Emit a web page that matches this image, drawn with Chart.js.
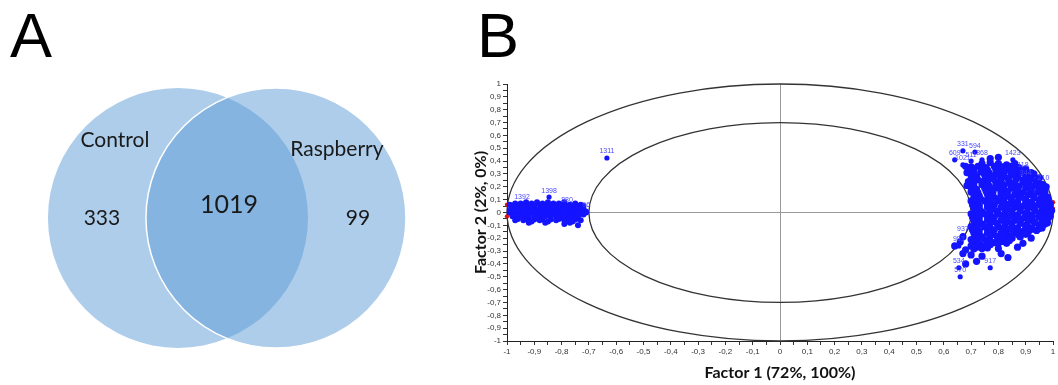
<!DOCTYPE html>
<html>
<head>
<meta charset="utf-8">
<script src="https://cdn.jsdelivr.net/npm/chart.js"></script>
<style>
  body { margin: 0; background: #fff; width: 1058px; height: 385px; position: relative; overflow: hidden; }
  .panel-letter { position: absolute; top: 4px; font-family: Arial, "Liberation Sans", sans-serif; font-size: 63px; line-height: 63px; color: #000; }
  #vennBox { position: absolute; left: 0; top: 0; width: 450px; height: 385px; }
  #plotBox { position: absolute; left: 460px; top: 0; width: 598px; height: 385px; }
</style>
</head>
<body>
<div class="panel-letter" style="left:10px">A</div>
<div class="panel-letter" style="left:477px">B</div>
<div id="vennBox"><canvas id="venn" width="450" height="385"></canvas></div>
<div id="plotBox"><canvas id="plot" width="598" height="385"></canvas></div>
<script>
// ---- panel A: venn ----
var vennSets = ['Control', 'Raspberry'];
var vennRegions = ['Control only', 'Both', 'Raspberry only'];
var vennCounts = [333, 1019, 99];

// ---- panel B: loadings (Factor 1, Factor 2) ----
var leftCluster = [
  [-0.99,0.06],[-0.97,0.07],[-0.95,0.07],[-0.93,0.08],[-0.91,0.07],[-0.89,0.08],[-0.87,0.07],[-0.85,0.08],[-0.83,0.07],[-0.81,0.07],[-0.79,0.08],[-0.77,0.06],[-0.75,0.07],[-0.73,0.06],
  [-0.98,0.055],[-0.96,0.05],[-0.94,0.06],[-0.92,0.05],[-0.90,0.055],[-0.88,0.06],[-0.86,0.05],[-0.84,0.055],[-0.82,0.05],[-0.80,0.06],[-0.78,0.05],[-0.76,0.055],[-0.74,0.05],[-0.72,0.05],
  [-0.98,0.04],[-0.96,0.03],[-0.94,0.04],[-0.92,0.03],[-0.90,0.04],[-0.88,0.03],[-0.86,0.04],[-0.84,0.03],[-0.82,0.04],[-0.80,0.03],[-0.78,0.04],[-0.76,0.03],[-0.74,0.04],[-0.72,0.03],
  [-0.99,0.02],[-0.97,0.025],[-0.95,0.015],[-0.93,0.02],[-0.91,0.025],[-0.89,0.015],[-0.87,0.02],[-0.85,0.025],[-0.83,0.015],[-0.81,0.02],[-0.79,0.025],[-0.77,0.015],[-0.75,0.02],[-0.73,0.02],
  [-0.99,0.00],[-0.97,0.01],[-0.95,-0.01],[-0.93,0.00],[-0.91,0.01],[-0.89,-0.01],[-0.87,0.00],[-0.85,0.01],[-0.83,-0.01],[-0.81,0.00],[-0.79,0.01],[-0.77,-0.01],[-0.75,0.00],[-0.73,0.01],[-0.71,0.00],
  [-0.98,-0.015],[-0.96,-0.02],[-0.94,-0.01],[-0.92,-0.02],[-0.90,-0.015],[-0.88,-0.01],[-0.86,-0.02],[-0.84,-0.015],[-0.82,-0.01],[-0.80,-0.02],[-0.78,-0.015],[-0.76,-0.01],[-0.74,-0.02],[-0.72,-0.015],
  [-0.98,-0.03],[-0.96,-0.04],[-0.94,-0.03],[-0.92,-0.04],[-0.90,-0.03],[-0.88,-0.04],[-0.86,-0.03],[-0.84,-0.04],[-0.82,-0.03],[-0.80,-0.04],[-0.78,-0.03],[-0.76,-0.04],[-0.74,-0.03],
  [-0.96,-0.05],[-0.93,-0.05],[-0.90,-0.055],[-0.87,-0.05],[-0.84,-0.055],[-0.81,-0.05],[-0.78,-0.05],[-0.75,-0.055],
  [-0.97,-0.06],[-0.94,-0.06],[-0.91,-0.07],[-0.88,-0.06],[-0.85,-0.07],[-0.82,-0.06],[-0.79,-0.06],[-0.76,-0.07],[-0.73,-0.06],
  [-0.79,-0.09],[-0.74,-0.10],[-0.77,-0.08],[-0.86,-0.08],[-0.92,-0.08]
];
var rightCluster = [
  [0.74,0.38],[0.77,0.39],[0.80,0.38],[0.83,0.37],[0.86,0.38],
  [0.70,0.355],[0.725,0.36],[0.755,0.35],[0.785,0.36],[0.815,0.355],[0.845,0.36],[0.875,0.35],[0.90,0.34],
  [0.69,0.33],[0.71,0.34],[0.74,0.34],[0.76,0.33],[0.79,0.34],[0.81,0.33],[0.84,0.34],[0.86,0.33],[0.89,0.32],[0.92,0.31],
  [0.685,0.31],[0.71,0.305],[0.735,0.315],[0.765,0.31],[0.79,0.305],[0.82,0.315],[0.845,0.31],[0.875,0.305],[0.90,0.31],[0.93,0.30],
  [0.70,0.29],[0.72,0.28],[0.75,0.29],[0.77,0.28],[0.80,0.29],[0.82,0.28],[0.85,0.29],[0.87,0.28],[0.90,0.29],[0.92,0.27],[0.95,0.27],
  [0.70,0.26],[0.725,0.255],[0.755,0.265],[0.78,0.26],[0.81,0.255],[0.835,0.265],[0.865,0.26],[0.89,0.255],[0.92,0.26],[0.945,0.255],
  [0.69,0.24],[0.71,0.23],[0.74,0.24],[0.76,0.23],[0.79,0.24],[0.81,0.23],[0.84,0.24],[0.86,0.23],[0.89,0.24],[0.91,0.23],[0.94,0.24],[0.96,0.22],
  [0.685,0.21],[0.71,0.205],[0.74,0.215],[0.765,0.21],[0.79,0.205],[0.82,0.215],[0.845,0.21],[0.875,0.205],[0.90,0.215],[0.93,0.21],[0.955,0.205],[0.975,0.20],
  [0.70,0.19],[0.72,0.18],[0.75,0.19],[0.77,0.18],[0.80,0.19],[0.82,0.18],[0.85,0.19],[0.87,0.18],[0.90,0.19],[0.92,0.18],[0.95,0.19],[0.97,0.17],
  [0.70,0.16],[0.725,0.155],[0.755,0.165],[0.78,0.16],[0.81,0.155],[0.835,0.165],[0.865,0.16],[0.89,0.155],[0.92,0.165],[0.945,0.16],[0.97,0.155],
  [0.71,0.14],[0.73,0.13],[0.76,0.14],[0.78,0.13],[0.81,0.14],[0.83,0.13],[0.86,0.14],[0.88,0.13],[0.91,0.14],[0.93,0.13],[0.96,0.14],[0.98,0.12],
  [0.71,0.11],[0.735,0.105],[0.765,0.115],[0.79,0.11],[0.82,0.105],[0.845,0.115],[0.875,0.11],[0.90,0.105],[0.93,0.115],[0.955,0.11],[0.98,0.10],
  [0.70,0.09],[0.72,0.08],[0.75,0.09],[0.77,0.08],[0.80,0.09],[0.82,0.08],[0.85,0.09],[0.87,0.08],[0.90,0.09],[0.92,0.08],[0.95,0.09],[0.97,0.08],[0.99,0.07],
  [0.705,0.06],[0.73,0.055],[0.76,0.065],[0.785,0.06],[0.815,0.055],[0.84,0.065],[0.87,0.06],[0.895,0.055],[0.925,0.065],[0.95,0.06],[0.975,0.055],[0.99,0.05],
  [0.71,0.04],[0.73,0.03],[0.76,0.04],[0.78,0.03],[0.81,0.04],[0.83,0.03],[0.86,0.04],[0.88,0.03],[0.91,0.04],[0.93,0.03],[0.96,0.04],[0.98,0.03],
  [0.715,0.01],[0.74,0.005],[0.77,0.015],[0.795,0.01],[0.825,0.005],[0.85,0.015],[0.88,0.01],[0.905,0.005],[0.935,0.015],[0.96,0.01],[0.985,0.005],[0.995,0.015],
  [0.70,-0.01],[0.72,-0.02],[0.75,-0.01],[0.77,-0.02],[0.80,-0.01],[0.82,-0.02],[0.85,-0.01],[0.87,-0.02],[0.90,-0.01],[0.92,-0.02],[0.95,-0.01],[0.97,-0.02],[0.99,-0.01],
  [0.705,-0.035],[0.73,-0.04],[0.76,-0.03],[0.785,-0.035],[0.815,-0.04],[0.84,-0.03],[0.87,-0.035],[0.895,-0.04],[0.925,-0.03],[0.95,-0.035],[0.975,-0.04],[0.99,-0.03],
  [0.71,-0.06],[0.73,-0.07],[0.76,-0.06],[0.78,-0.07],[0.81,-0.06],[0.83,-0.07],[0.86,-0.06],[0.88,-0.07],[0.91,-0.06],[0.93,-0.07],[0.96,-0.06],[0.98,-0.05],
  [0.715,-0.085],[0.74,-0.09],[0.77,-0.08],[0.795,-0.085],[0.825,-0.09],[0.85,-0.08],[0.88,-0.085],[0.905,-0.09],[0.935,-0.08],[0.96,-0.085],[0.98,-0.08],
  [0.70,-0.11],[0.72,-0.12],[0.75,-0.11],[0.77,-0.12],[0.80,-0.11],[0.82,-0.12],[0.85,-0.11],[0.87,-0.12],[0.90,-0.11],[0.92,-0.12],[0.95,-0.10],[0.97,-0.09],
  [0.705,-0.135],[0.73,-0.14],[0.76,-0.13],[0.785,-0.135],[0.815,-0.14],[0.84,-0.13],[0.87,-0.135],[0.895,-0.14],[0.925,-0.13],[0.95,-0.125],
  [0.71,-0.16],[0.73,-0.17],[0.76,-0.16],[0.78,-0.17],[0.81,-0.16],[0.83,-0.17],[0.86,-0.16],[0.88,-0.15],[0.91,-0.15],[0.94,-0.14],
  [0.715,-0.185],[0.74,-0.19],[0.77,-0.18],[0.795,-0.185],[0.825,-0.19],[0.85,-0.18],[0.875,-0.175],[0.90,-0.17],
  [0.70,-0.21],[0.72,-0.22],[0.75,-0.21],[0.77,-0.22],[0.80,-0.21],[0.82,-0.20],[0.85,-0.20],[0.88,-0.19],
  [0.705,-0.235],[0.73,-0.24],[0.76,-0.23],[0.785,-0.235],[0.815,-0.225],[0.84,-0.22],
  [0.70,-0.26],[0.72,-0.27],[0.75,-0.26],[0.77,-0.25],[0.80,-0.24],[0.83,-0.24],
  [0.71,-0.285],[0.74,-0.28],[0.76,-0.275],
  [0.68,0.36],[0.77,0.42],[0.80,0.43],[0.67,-0.32],[0.70,-0.33],[0.74,-0.34],[0.81,-0.32],[0.835,-0.35],[0.80,-0.28],
  [0.87,-0.27],[0.92,-0.20],[0.96,-0.12],[0.64,-0.26],[0.68,-0.40],[0.72,-0.38],[0.89,-0.24],[0.67,-0.19],[0.66,-0.23],[0.68,-0.29]
];
var labelledPoints = [
  [-0.634,0.424,'1311'],[-0.846,0.12,'1398'],[-0.945,0.066,'1392'],[-0.78,0.05,'880'],[-0.71,0.01,'96'],
  [0.67,0.48,'331'],[0.714,0.47,'594'],[0.64,0.41,'609'],[0.70,0.40,'511'],[0.74,0.41,'868'],[0.67,0.37,'1021'],
  [0.853,0.41,'1423'],[0.89,0.32,'118'],[0.90,0.26,'344'],[0.965,0.22,'210'],
  [0.67,-0.18,'937'],[0.655,-0.26,'983'],[0.655,-0.43,'534'],[0.66,-0.50,'570'],[0.77,-0.43,'917']
];
var classPoints = [[-1,0.06],[-1,-0.03],[1,0.08],[1,0.03]];
var circleRadii = [1, 0.7];

function toXY(arr) { return arr.map(function(p){ return {x: p[0], y: p[1]}; }); }

// text spots for the venn, in venn scale units
var vennTextPos = {
  sets: [{x: -0.643, y: 0.724}, {x: 1.622, y: 0.636}],
  regions: [{x: -0.776, y: -0.071, size: 21}, {x: 0.52, y: 0.054, size: 25}, {x: 1.837, y: -0.071, size: 21}]
};

var vennText = {
  id: 'vennText',
  afterDatasetsDraw: function(chart) {
    var ctx = chart.ctx, sx = chart.scales.x, sy = chart.scales.y;
    ctx.save();
    ctx.fillStyle = '#1a1a1a';
    ctx.textAlign = 'center';
    ctx.textBaseline = 'alphabetic';
    ctx.font = '21px Lato';
    vennSets.forEach(function(s, i) {
      var p = vennTextPos.sets[i];
      ctx.fillText(s, sx.getPixelForValue(p.x), sy.getPixelForValue(p.y));
    });
    vennCounts.forEach(function(c, i) {
      var p = vennTextPos.regions[i];
      ctx.font = p.size + 'px Lato';
      ctx.fillText(String(c), sx.getPixelForValue(p.x), sy.getPixelForValue(p.y));
    });
    ctx.restore();
  }
};

new Chart(document.getElementById('venn'), {
  type: 'scatter',
  data: {
    datasets: [{
      data: vennSets.map(function(s, i){ return {x: i, y: 0}; }),
      pointRadius: 130,
      backgroundColor: 'rgba(91,155,213,0.5)',
      borderColor: ['rgba(0,0,0,0)', '#ffffff'],
      borderWidth: 1.5,
      clip: false
    }]
  },
  options: {
    responsive: false,
    animation: false,
    events: [],
    layout: { padding: 0, autoPadding: false },
    plugins: { legend: { display: false }, tooltip: { enabled: false } },
    scales: {
      x: { display: false, min: -1.816, max: 2.776 },
      y: { display: false, min: -1.704, max: 2.224 }
    }
  },
  plugins: [vennText]
});

// ---- panel B ----
function tickFmt(v) {
  var r = Math.round(v * 100);
  if (r % 10 !== 0) return '';
  return String(r / 100).replace('.', ',');
}

var circles = {
  id: 'circles',
  beforeDatasetsDraw: function(chart) {
    var ctx = chart.ctx, sx = chart.scales.x, sy = chart.scales.y;
    var cx = sx.getPixelForValue(0), cy = sy.getPixelForValue(0);
    ctx.save();
    ctx.strokeStyle = '#333';
    ctx.lineWidth = 1.3;
    circleRadii.forEach(function(r) {
      ctx.beginPath();
      ctx.ellipse(cx, cy, sx.getPixelForValue(r) - cx, cy - sy.getPixelForValue(r), 0, 0, Math.PI * 2);
      ctx.stroke();
    });
    ctx.restore();
  }
};

var pointLabels = {
  id: 'pointLabels',
  afterDatasetsDraw: function(chart) {
    var ctx = chart.ctx;
    var meta = chart.getDatasetMeta(2);
    ctx.save();
    ctx.fillStyle = '#4848ff';
    ctx.font = '7px Arial';
    ctx.textAlign = 'center';
    ctx.textBaseline = 'bottom';
    meta.data.forEach(function(el, i) {
      ctx.fillText(labelledPoints[i][2], el.x, el.y - 3);
    });
    ctx.restore();
  }
};

var axisTitleFont = { family: 'Lato', size: 16, weight: 'bold' };
var tickFont = { family: 'Arial', size: 8 };

new Chart(document.getElementById('plot'), {
  type: 'scatter',
  data: {
    datasets: [
      { data: toXY(leftCluster), backgroundColor: '#1414ff', pointRadius: 3, borderWidth: 0, clip: false },
      { data: toXY(rightCluster), backgroundColor: '#1414ff', pointRadius: 3.6, borderWidth: 0, clip: false },
      { data: toXY(labelledPoints), backgroundColor: '#1414ff', pointRadius: 2.6, borderWidth: 0, clip: false },
      { data: toXY(classPoints), backgroundColor: '#e01010', pointRadius: 2.2, borderWidth: 0, clip: false }
    ]
  },
  options: {
    responsive: false,
    animation: false,
    events: [],
    layout: { padding: { top: 84, right: 5, left: 0, bottom: 0 }, autoPadding: false },
    plugins: { legend: { display: false }, tooltip: { enabled: false } },
    scales: {
      x: {
        type: 'linear', min: -1, max: 1,
        afterFit: function(s) { s.height = 44; },
        ticks: { stepSize: 0.05, autoSkip: false, maxRotation: 0, callback: tickFmt, font: tickFont, color: '#333', padding: 2 },
        grid: {
          color: function(c) { return c.tick && c.tick.value === 0 ? '#999' : 'rgba(0,0,0,0)'; },
          tickColor: '#333', tickLength: 4
        },
        border: { color: '#222', width: 1 },
        title: { display: true, text: 'Factor 1 (72%, 100%)', font: axisTitleFont, color: '#111', padding: { top: 0, bottom: 3 } }
      },
      y: {
        type: 'linear', min: -1, max: 1,
        afterFit: function(s) { s.width = 47; },
        ticks: { stepSize: 0.05, autoSkip: false, callback: tickFmt, font: tickFont, color: '#333', padding: 2 },
        grid: {
          color: function(c) { return c.tick && c.tick.value === 0 ? '#999' : 'rgba(0,0,0,0)'; },
          tickColor: '#333', tickLength: 4
        },
        border: { color: '#222', width: 1 },
        title: { display: true, text: 'Factor 2 (2%, 0%)', font: axisTitleFont, color: '#111', padding: { top: 11, bottom: 0 } }
      }
    }
  },
  plugins: [circles, pointLabels]
});
</script>
</body>
</html>
